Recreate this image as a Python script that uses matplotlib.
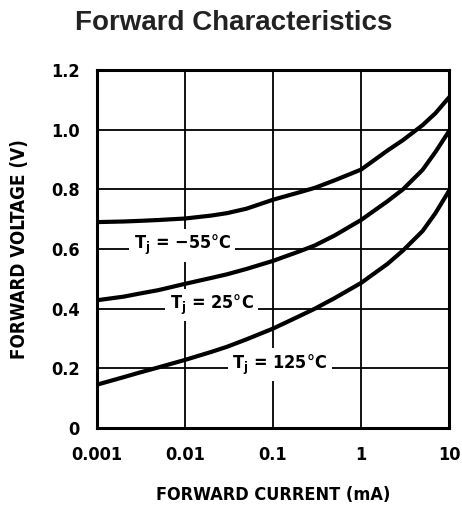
import matplotlib
matplotlib.use("Agg")
import matplotlib.pyplot as plt
from matplotlib import font_manager as fm

# ---- data ----
current_ma = [0.001, 0.002, 0.003, 0.005, 0.01, 0.02, 0.03, 0.05, 0.1,
              0.2, 0.3, 0.5, 1, 2, 3, 5, 7, 10]
v_m55 = [0.690, 0.692, 0.694, 0.697, 0.702, 0.712, 0.720, 0.735, 0.765,
         0.790, 0.805, 0.830, 0.866, 0.930, 0.965, 1.015, 1.055, 1.108]
v_25 = [0.428, 0.440, 0.450, 0.462, 0.483, 0.503, 0.515, 0.533, 0.560,
        0.592, 0.612, 0.645, 0.697, 0.760, 0.800, 0.865, 0.925, 0.995]
v_125 = [0.145, 0.170, 0.185, 0.203, 0.228, 0.255, 0.272, 0.297, 0.333,
         0.375, 0.400, 0.435, 0.486, 0.550, 0.595, 0.660, 0.720, 0.795]

curve_labels = ["\u221255\u00b0C", "25\u00b0C", "125\u00b0C"]
label_x = [0.0093, 0.02, 0.12]
label_y = [0.6, 0.4, 0.2]

xticks = [0.001, 0.01, 0.1, 1, 10]
xtick_labels = ["0.001", "0.01", "0.1", "1", "10"]
yticks = [0, 0.2, 0.4, 0.6, 0.8, 1.0, 1.2]
ytick_labels = ["0", "0.2", "0.4", "0.6", "0.8", "1.0", "1.2"]

# ---- fonts: prefer a condensed bold face ----
cond_file = None
cond_name = None
for f in fm.fontManager.ttflist:
    low = f.fname.lower()
    if ("narrow" in low or "condensed" in low) and ("bold" in low) and ("oblique" not in low) and ("italic" not in low):
        if "liberation" in low or cond_file is None:
            cond_file = f.fname
            cond_name = f.name
if cond_file:
    def FP(size):
        return fm.FontProperties(fname=cond_file, size=size)
    math_spec = cond_name + ":weight=bold:stretch=condensed"
else:
    def FP(size):
        return fm.FontProperties(family="DejaVu Sans", weight="bold", size=size)
    math_spec = "DejaVu Sans:bold"

plt.rcParams["mathtext.fontset"] = "custom"
plt.rcParams["mathtext.rm"] = math_spec
plt.rcParams["mathtext.it"] = math_spec
plt.rcParams["mathtext.bf"] = math_spec

fig = plt.figure(figsize=(4.62, 5.07), dpi=100)
ax = fig.add_axes([0.21, 0.156, 0.762, 0.706])

ax.set_xscale("log")
ax.set_xlim(0.001, 10)
ax.set_ylim(0, 1.2)

for v in [0.01, 0.1, 1]:
    ax.axvline(v, color="black", lw=1.3, zorder=1)
for v in [0.2, 0.4, 0.6, 0.8, 1.0]:
    ax.axhline(v, color="black", lw=1.3, zorder=1)

for ys in (v_m55, v_25, v_125):
    ax.plot(current_ma, ys, color="black", lw=3.0, zorder=4,
            solid_joinstyle="round")

for lab, lx, ly in zip(curve_labels, label_x, label_y):
    ax.text(lx, ly + 0.012, r"$\mathregular{T_j}$ = " + lab, ha="center", va="center",
            fontproperties=FP(13), zorder=3,
            bbox=dict(facecolor="white", edgecolor="none", pad=3))

ax.set_xticks(xticks)
ax.set_xticklabels(xtick_labels)
ax.set_yticks(yticks)
ax.set_yticklabels(ytick_labels)
ax.minorticks_off()
ax.tick_params(length=0)
ax.tick_params(axis="x", pad=13)
ax.tick_params(axis="y", pad=12.5)
for t in ax.get_xticklabels() + ax.get_yticklabels():
    t.set_fontproperties(FP(13))

for s in ax.spines.values():
    s.set_linewidth(2.2)

ax.set_xlabel("FORWARD CURRENT (mA)", fontproperties=FP(13), labelpad=16)
ax.set_ylabel("FORWARD VOLTAGE (V)", fontproperties=FP(13.5), labelpad=16)

fig.text(0.505, 0.954, "Forward Characteristics", ha="center", va="center",
         fontfamily="Liberation Sans", fontweight="bold", fontsize=20, color="#222222")

fig.savefig("out.png", dpi=100, facecolor="white")
